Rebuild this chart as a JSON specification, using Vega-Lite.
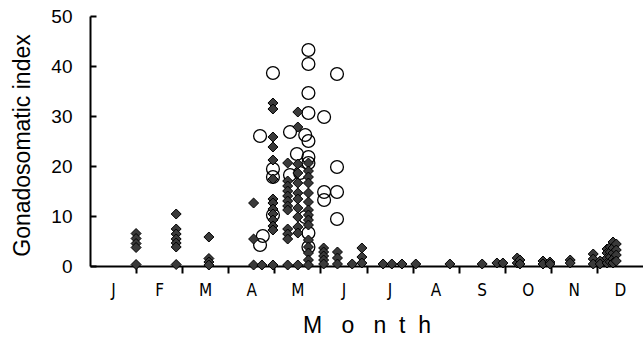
{
  "$schema": "https://vega.github.io/schema/vega-lite/v6.json",
  "width": 553,
  "height": 250,
  "autosize": {"type": "none"},
  "padding": {"left": 90, "top": 16, "right": 0, "bottom": 74},
  "background": "white",
  "config": {"view": {"stroke": null}},
  "datasets": {
    "diamonds": [
      {"month": 1.0, "gsi": 6.5}, {"month": 1.0, "gsi": 5.5}, {"month": 1.0, "gsi": 4.5}, {"month": 1.0, "gsi": 3.7}, {"month": 1.0, "gsi": 0.3},
      {"month": 1.87, "gsi": 10.4}, {"month": 1.87, "gsi": 7.4}, {"month": 1.87, "gsi": 6.4}, {"month": 1.87, "gsi": 5.4}, {"month": 1.87, "gsi": 4.6}, {"month": 1.87, "gsi": 3.8}, {"month": 1.87, "gsi": 0.3},
      {"month": 2.58, "gsi": 5.8}, {"month": 2.58, "gsi": 1.5}, {"month": 2.58, "gsi": 0.8}, {"month": 2.58, "gsi": 0.2},
      {"month": 3.55, "gsi": 12.6}, {"month": 3.55, "gsi": 5.4}, {"month": 3.55, "gsi": 0.2},
      {"month": 3.73, "gsi": 0.2},
      {"month": 3.97, "gsi": 32.6}, {"month": 3.97, "gsi": 31.4}, {"month": 3.97, "gsi": 25.8}, {"month": 3.97, "gsi": 23.8}, {"month": 3.97, "gsi": 21.2}, {"month": 3.97, "gsi": 17.4}, {"month": 3.97, "gsi": 13.4}, {"month": 3.97, "gsi": 12.6}, {"month": 3.97, "gsi": 11.4}, {"month": 3.97, "gsi": 10.4}, {"month": 3.97, "gsi": 9.2}, {"month": 3.97, "gsi": 8.0}, {"month": 3.97, "gsi": 7.2}, {"month": 3.97, "gsi": 0.2},
      {"month": 4.29, "gsi": 20.6}, {"month": 4.29, "gsi": 17.0}, {"month": 4.29, "gsi": 16.0}, {"month": 4.29, "gsi": 15.0}, {"month": 4.29, "gsi": 14.0}, {"month": 4.29, "gsi": 13.0}, {"month": 4.29, "gsi": 12.0}, {"month": 4.29, "gsi": 11.2}, {"month": 4.29, "gsi": 7.4}, {"month": 4.29, "gsi": 6.4}, {"month": 4.29, "gsi": 5.4}, {"month": 4.29, "gsi": 0.2},
      {"month": 4.51, "gsi": 30.8}, {"month": 4.51, "gsi": 27.8}, {"month": 4.51, "gsi": 20.4}, {"month": 4.51, "gsi": 18.6}, {"month": 4.51, "gsi": 16.6}, {"month": 4.51, "gsi": 14.6}, {"month": 4.51, "gsi": 13.4}, {"month": 4.51, "gsi": 11.6}, {"month": 4.51, "gsi": 9.8}, {"month": 4.51, "gsi": 7.8}, {"month": 4.51, "gsi": 6.6}, {"month": 4.51, "gsi": 0.2},
      {"month": 4.74, "gsi": 20.6}, {"month": 4.74, "gsi": 19.0}, {"month": 4.74, "gsi": 17.8}, {"month": 4.74, "gsi": 16.6}, {"month": 4.74, "gsi": 14.6}, {"month": 4.74, "gsi": 12.8}, {"month": 4.74, "gsi": 11.2}, {"month": 4.74, "gsi": 10.2}, {"month": 4.74, "gsi": 9.2}, {"month": 4.74, "gsi": 8.2}, {"month": 4.74, "gsi": 5.2}, {"month": 4.74, "gsi": 3.8}, {"month": 4.74, "gsi": 2.6}, {"month": 4.74, "gsi": 1.2}, {"month": 4.74, "gsi": 0.2},
      {"month": 5.07, "gsi": 3.6}, {"month": 5.07, "gsi": 2.8}, {"month": 5.07, "gsi": 2.0}, {"month": 5.07, "gsi": 1.2}, {"month": 5.07, "gsi": 0.4},
      {"month": 5.37, "gsi": 2.8}, {"month": 5.37, "gsi": 1.6}, {"month": 5.37, "gsi": 0.4},
      {"month": 5.69, "gsi": 0.4},
      {"month": 5.9, "gsi": 3.6}, {"month": 5.9, "gsi": 1.8}, {"month": 5.9, "gsi": 0.6},
      {"month": 6.36, "gsi": 0.4}, {"month": 6.55, "gsi": 0.4}, {"month": 6.77, "gsi": 0.4}, {"month": 7.07, "gsi": 0.4},
      {"month": 7.81, "gsi": 0.4}, {"month": 8.51, "gsi": 0.4}, {"month": 8.83, "gsi": 0.6}, {"month": 8.96, "gsi": 0.6},
      {"month": 9.27, "gsi": 1.6}, {"month": 9.27, "gsi": 0.6}, {"month": 9.33, "gsi": 1.2}, {"month": 9.33, "gsi": 0.4},
      {"month": 9.83, "gsi": 1.0}, {"month": 9.83, "gsi": 0.4}, {"month": 9.98, "gsi": 0.8}, {"month": 9.98, "gsi": 0.4},
      {"month": 10.42, "gsi": 1.2}, {"month": 10.42, "gsi": 0.6},
      {"month": 10.92, "gsi": 2.4}, {"month": 10.92, "gsi": 1.4}, {"month": 10.92, "gsi": 0.4},
      {"month": 11.07, "gsi": 1.0}, {"month": 11.07, "gsi": 0.4},
      {"month": 11.22, "gsi": 3.4}, {"month": 11.22, "gsi": 2.6}, {"month": 11.22, "gsi": 1.6}, {"month": 11.22, "gsi": 0.6},
      {"month": 11.29, "gsi": 3.8}, {"month": 11.29, "gsi": 2.8}, {"month": 11.29, "gsi": 1.8}, {"month": 11.29, "gsi": 0.8},
      {"month": 11.35, "gsi": 4.8}, {"month": 11.35, "gsi": 3.6}, {"month": 11.35, "gsi": 2.6}, {"month": 11.35, "gsi": 1.4}, {"month": 11.35, "gsi": 0.6},
      {"month": 11.42, "gsi": 4.4}, {"month": 11.42, "gsi": 3.2}, {"month": 11.42, "gsi": 2.2}, {"month": 11.42, "gsi": 1.0}
    ],
    "circles": [
      {"month": 3.69, "gsi": 26.0}, {"month": 3.69, "gsi": 4.2},
      {"month": 3.75, "gsi": 6.0},
      {"month": 3.97, "gsi": 38.6}, {"month": 3.97, "gsi": 19.4}, {"month": 3.97, "gsi": 17.8}, {"month": 3.97, "gsi": 10.2},
      {"month": 4.34, "gsi": 26.8}, {"month": 4.34, "gsi": 18.2},
      {"month": 4.49, "gsi": 22.4},
      {"month": 4.56, "gsi": 18.6},
      {"month": 4.67, "gsi": 26.2}, {"month": 4.67, "gsi": 9.8},
      {"month": 4.74, "gsi": 43.2}, {"month": 4.74, "gsi": 40.4}, {"month": 4.74, "gsi": 34.6}, {"month": 4.74, "gsi": 30.6}, {"month": 4.74, "gsi": 25.0}, {"month": 4.74, "gsi": 21.8}, {"month": 4.74, "gsi": 20.6}, {"month": 4.74, "gsi": 6.6}, {"month": 4.74, "gsi": 3.8},
      {"month": 5.08, "gsi": 29.8}, {"month": 5.08, "gsi": 14.8}, {"month": 5.08, "gsi": 13.2},
      {"month": 5.36, "gsi": 38.4}, {"month": 5.36, "gsi": 19.8}, {"month": 5.36, "gsi": 14.8}, {"month": 5.36, "gsi": 9.4}
    ]
  },
  "encoding": {
    "x": {
      "field": "month",
      "type": "quantitative",
      "scale": {"domain": [0, 12], "nice": false, "zero": false},
      "axis": {
        "title": "M\u00a0\u00a0\u00a0o\u00a0\u00a0\u00a0n\u00a0\u00a0t\u00a0\u00a0h",
        "values": [0, 1, 2, 3, 4, 5, 6, 7, 8, 9, 10, 11],
        "labelExpr": "['J','F','M','A','M','J','J','A','S','O','N','D'][datum.value]",
        "labelOffset": 23,
        "labelFlush": false,
        "labelOverlap": false,
        "tickSize": 7,
        "tickWidth": 2,
        "tickColor": "black",
        "tickOpacity": {"condition": {"test": "datum.value == 0", "value": 0}, "value": 1},
        "domainColor": "black",
        "domainWidth": 2,
        "grid": false,
        "labelFont": "Liberation Sans Narrow, DejaVu Sans Condensed, Liberation Sans, sans-serif",
        "labelFontSize": 17,
        "labelColor": "black",
        "labelPadding": 22,
        "labelBaseline": "alphabetic",
        "titleFont": "Liberation Sans",
        "titleFontSize": 23,
        "titleFontWeight": "normal",
        "titleColor": "black",
        "titleBaseline": "alphabetic",
        "titleY": 66
      }
    }
  },
  "resolve": {"axis": {"y": "independent"}},
  "layer": [
    {
      "data": {"name": "circles"},
      "mark": {"type": "point", "shape": "circle", "filled": false, "stroke": "black", "strokeWidth": 1.3, "size": 165, "opacity": 1},
      "encoding": {
        "y": {
          "field": "gsi",
          "type": "quantitative",
          "scale": {"domain": [0, 50], "nice": false},
          "axis": {
            "title": "Gonadosomatic index",
            "values": [0, 10, 20, 30, 40, 50],
            "ticks": false,
            "domainColor": "black",
            "domainWidth": 2,
            "grid": false,
            "labelFont": "Liberation Sans",
            "labelFontSize": 19,
            "labelColor": "black",
            "labelPadding": 18,
            "titleFont": "Liberation Sans",
            "titleFontSize": 23,
            "titleFontWeight": "normal",
            "titleColor": "black",
            "titleAngle": 270,
            "titleAlign": "center",
            "titleBaseline": "alphabetic",
            "titleX": -61,
            "titleY": 129
          }
        }
      }
    },
    {
      "data": {"name": "diamonds"},
      "mark": {"type": "point", "shape": "diamond", "filled": true, "fill": "#3a3a3a", "stroke": "black", "strokeWidth": 1, "size": 100, "opacity": 1},
      "encoding": {
        "y": {
          "field": "gsi",
          "type": "quantitative",
          "scale": {"domain": [0, 50], "nice": false},
          "axis": {
            "orient": "right",
            "offset": -553,
            "title": null,
            "values": [0, 10, 20, 30, 40, 50],
            "labels": false,
            "domain": false,
            "grid": false,
            "tickSize": 6,
            "tickWidth": 2,
            "tickColor": "black"
          }
        }
      }
    }
  ]
}
